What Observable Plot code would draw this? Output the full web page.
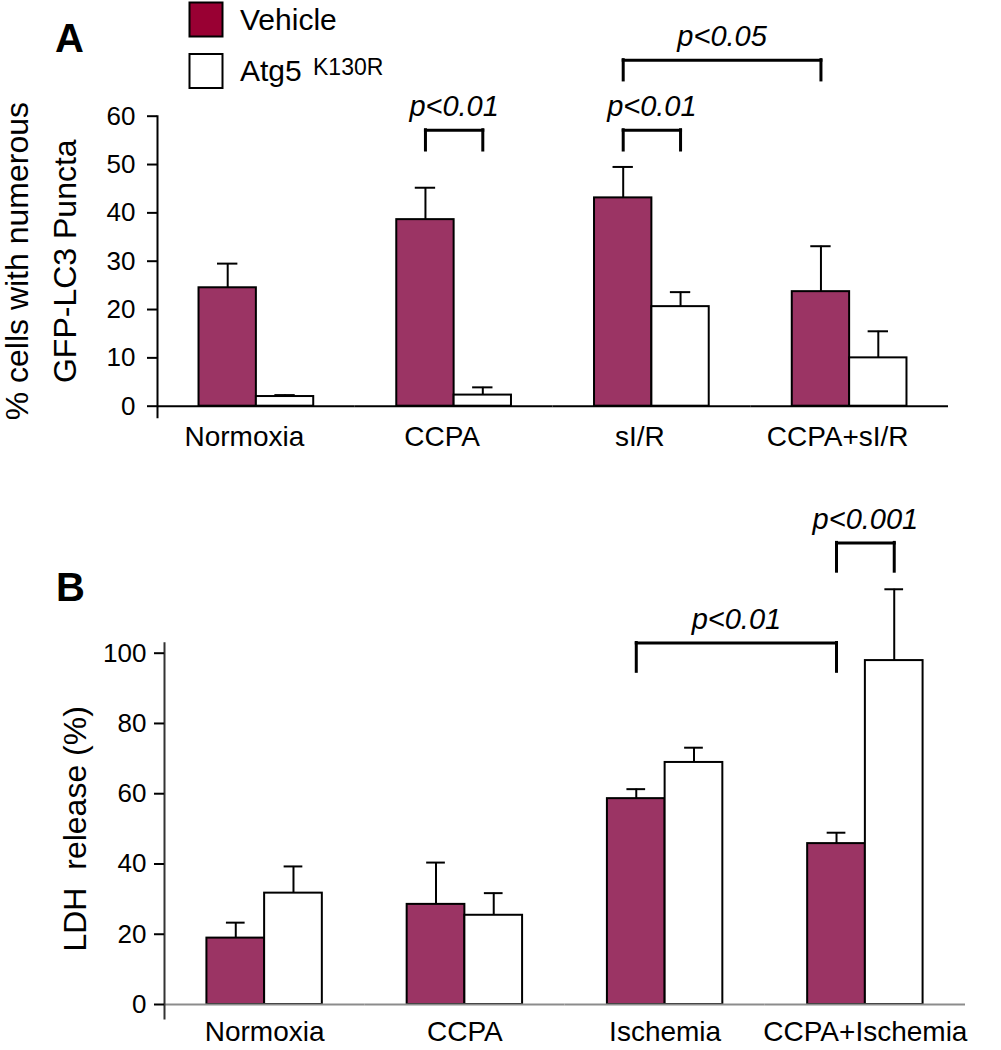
<!DOCTYPE html>
<html>
<head>
<meta charset="utf-8">
<script src="https://cdn.jsdelivr.net/npm/d3@7"></script>
<script src="https://cdn.jsdelivr.net/npm/@observablehq/plot@0.6"></script>
<style>
  body { margin: 0; background: #fff; }
  #root { position: relative; width: 1001px; height: 1050px; font-family: "Liberation Sans", Arial, Helvetica, sans-serif; }
  #root > svg { position: absolute; left: 0; }
</style>
</head>
<body>
<div id="root"></div>
<script>
// ---------- data ----------
const series = ["Vehicle", "Atg5"];
const seriesColors = ["#9b3464", "#ffffff"];
const legendSwatchColors = ["#990033", "#ffffff"];
const legendLabels = ["Vehicle", "Atg5"];
const legendSuperscripts = ["", "K130R"];

const categoriesA = ["Normoxia", "CCPA", "sI/R", "CCPA+sI/R"];
const vehicleA = [24.5, 38.6, 43.1, 23.7];
const vehicleErrA = [5.0, 6.6, 6.4, 9.4];
const atg5A = [2.0, 2.3, 20.6, 10.0];
const atg5ErrA = [0.3, 1.6, 3.0, 5.5];
const yTicksA = [0, 10, 20, 30, 40, 50, 60];
const yLabelA = "% cells with numerous\nGFP-LC3 Puncta";

const categoriesB = ["Normoxia", "CCPA", "Ischemia", "CCPA+Ischemia"];
const vehicleB = [18.9, 28.5, 58.6, 45.8];
const vehicleErrB = [4.4, 11.9, 2.7, 3.1];
const atg5B = [31.7, 25.4, 68.9, 97.9];
const atg5ErrB = [7.6, 6.3, 4.2, 20.3];
const yTicksB = [0, 20, 40, 60, 80, 100];
const yLabelB = "LDH\u00a0\u00a0release (%)";

const bracketsA = [
  {from: ["CCPA", "Vehicle"], to: ["CCPA", "Atg5"], top: 57.1, bottom: 52.9, label: "p<0.01"},
  {from: ["sI/R", "Vehicle"], to: ["sI/R", "Atg5"], top: 57.1, bottom: 52.9, label: "p<0.01"},
  {from: ["sI/R", "Vehicle"], to: ["CCPA+sI/R", "Vehicle"], top: 71.6, bottom: 67.4, label: "p<0.05"}
];
const bracketsB = [
  {from: ["Ischemia", "Vehicle"], to: ["CCPA+Ischemia", "Vehicle"], top: 102.9, bottom: 94.7, label: "p<0.01"},
  {from: ["CCPA+Ischemia", "Vehicle"], to: ["CCPA+Ischemia", "Atg5"], top: 131.4, bottom: 123.2, label: "p<0.001"}
];

// ---------- helpers ----------
function toRows(categories, vehicle, vehicleErr, atg5, atg5Err) {
  return categories.flatMap((c, i) => [
    {group: c, series: series[0], value: vehicle[i], err: vehicleErr[i]},
    {group: c, series: series[1], value: atg5[i], err: atg5Err[i]}
  ]);
}

const FONT = "'Liberation Sans', Arial, Helvetica, sans-serif";

function panel(cfg) {
  const {categories, data, brackets, yDomain, yTicks, yLabel, height,
         marginTop, marginBottom, marginLeft, marginRight, barPadOuter,
         tickSize, tickPadding, fxPadding, fxDx, axisExtTop, axisExtBottom,
         baselineColor, axisColor, yLabelDx, capInset} = cfg;
  const legs = brackets.flatMap(b => [b.from, b.to].map(([group, s]) => ({group, series: s, top: b.top, bottom: b.bottom})));
  // shifts a bracket's x-channel from its starting bar towards its end bar (possibly in another facet)
  const shiftBy = (key, frac) => function (index, scales, values, dimensions, context, next) {
    const shifted = Array.from(values[key]);
    for (const i of index) {
      const b = brackets[i];
      shifted[i] += frac * (scales.fx(b.to[0]) - scales.fx(b.from[0]) + scales.x(b.to[1]) - scales.x(b.from[1]));
    }
    return next(index, scales, Object.assign({}, values, {[key]: shifted}), dimensions, context);
  };
  return Plot.plot({
    width: 1001, height, marginTop, marginBottom, marginLeft, marginRight,
    style: {fontFamily: FONT, color: "black", background: "transparent", overflow: "visible"},
    fx: {domain: categories, paddingInner: 0, paddingOuter: 0, round: false, axis: null},
    x: {domain: series, paddingInner: 0, paddingOuter: barPadOuter, round: false, axis: null},
    y: {domain: yDomain, axis: null},
    color: {domain: series, range: seriesColors},
    marks: [
      Plot.ruleX(data, {fx: "group", x: "series", y1: "value", y2: d => d.value + d.err, stroke: "black", strokeWidth: 2}),
      Plot.tickY(data, {fx: "group", x: "series", y: d => d.value + d.err, stroke: "black", strokeWidth: 2, inset: capInset}),
      Plot.barY(data, {fx: "group", x: "series", y: "value", fill: "series", stroke: "black", strokeWidth: 2}),
      Plot.ruleY([0], {stroke: baselineColor, strokeWidth: 2}),
      Plot.frame({anchor: "left", facetAnchor: "left", stroke: axisColor, strokeWidth: 2, insetTop: axisExtTop, insetBottom: axisExtBottom}),
      Plot.axisY({ticks: yTicks, tickSize, tickPadding, fontSize: 26, stroke: "black", strokeWidth: 2, label: null, tickFormat: d => d}),
      Plot.axisFx({anchor: "bottom", tickSize: 0, tickPadding: fxPadding, fontSize: 28, label: null, dx: fxDx}),
      Plot.text([yLabel], {text: d => d, frameAnchor: "left", facetAnchor: "left", rotate: -90, textAnchor: "middle",
        lineAnchor: "bottom", lineHeight: 1.5, fontSize: 32, dx: yLabelDx}),
      Plot.ruleX(legs, {fx: "group", x: "series", y1: "bottom", y2: "top", stroke: "black", strokeWidth: 3, strokeLinecap: "square"}),
      Plot.link(brackets, {fx: d => d.from[0], x1: d => d.from[1], x2: d => d.from[1], y1: "top", y2: "top",
        stroke: "black", strokeWidth: 3, strokeLinecap: "square", render: shiftBy("x2", 1)}),
      Plot.text(brackets, {fx: d => d.from[0], x: d => d.from[1], y: "top", text: "label", fontSize: 29, fontStyle: "italic",
        lineAnchor: "bottom", dy: -14, render: shiftBy("x", 0.5)})
    ]
  });
}

const root = document.getElementById("root");

const chartA = panel({
  categories: categoriesA, data: toRows(categoriesA, vehicleA, vehicleErrA, atg5A, atg5ErrA),
  brackets: bracketsA, yDomain: [0, 60], yTicks: yTicksA, yLabel: yLabelA,
  height: 480, marginTop: 115.7, marginBottom: 74.3, marginLeft: 157, marginRight: 53, barPadOuter: 0.724,
  tickSize: 10, tickPadding: 12, fxPadding: 20, fxDx: -12, axisExtTop: 0, axisExtBottom: -11,
  baselineColor: "black", axisColor: "black", yLabelDx: -82, capInset: 18.5
});
chartA.style.top = "0px";
root.appendChild(chartA);

const chartB = panel({
  categories: categoriesB, data: toRows(categoriesB, vehicleB, vehicleErrB, atg5B, atg5ErrB),
  brackets: bracketsB, yDomain: [0, 100], yTicks: yTicksB, yLabel: yLabelB,
  height: 570, marginTop: 172.7, marginBottom: 46, marginLeft: 164, marginRight: 36, barPadOuter: 0.735,
  tickSize: 10, tickPadding: 8, fxPadding: 17, fxDx: 0, axisExtTop: -10, axisExtBottom: -14,
  baselineColor: "#8c8c8c", axisColor: "#333", yLabelDx: -79, capInset: 19.5
});
chartB.style.top = "480px";
root.appendChild(chartB);

// ---------- legend & panel letters ----------
const overlay = d3.create("svg").attr("width", 1001).attr("height", 1050)
  .style("top", "0px").style("font-family", FONT).style("pointer-events", "none");
const leg = overlay.append("g");
series.forEach((s, i) => {
  const y0 = 2.5 + i * 51.5;
  leg.append("rect").attr("x", 189.5).attr("y", y0).attr("width", 33).attr("height", 34)
    .attr("fill", legendSwatchColors[i]).attr("stroke", "black").attr("stroke-width", 2);
  leg.append("text").attr("x", 240).attr("y", y0 + 27).attr("font-size", 30).text(legendLabels[i]);
  if (legendSuperscripts[i]) {
    leg.append("text").attr("x", 313).attr("y", y0 + 21).attr("font-size", 23).text(legendSuperscripts[i]);
  }
});
overlay.append("text").attr("x", 55).attr("y", 52).attr("font-size", 40).attr("font-weight", "bold").text("A");
overlay.append("text").attr("x", 56).attr("y", 601).attr("font-size", 40).attr("font-weight", "bold").text("B");
root.appendChild(overlay.node());
</script>
</body>
</html>
